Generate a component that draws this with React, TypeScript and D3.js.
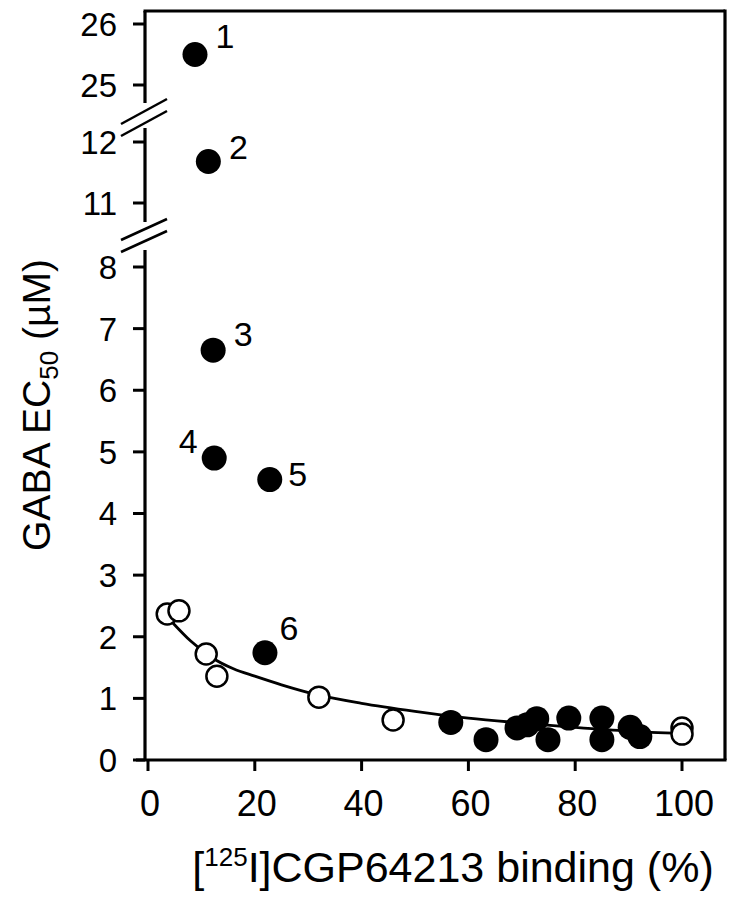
import React from "react";
import * as d3 from "d3";

// ---- data ----
const filledX = [8.8, 11.3, 12.2, 12.4, 22.8, 21.9, 56.7, 63.3, 69.1, 71.0, 72.8, 74.9, 78.8, 85.0, 85.0, 90.3, 92.1];
const filledY = [25.5, 11.68, 6.65, 4.9, 4.55, 1.74, 0.61, 0.33, 0.52, 0.57, 0.67, 0.33, 0.68, 0.68, 0.33, 0.53, 0.38];
const filledLabels = ["1", "2", "3", "4", "5", "6"];
const openX = [3.6, 5.8, 10.9, 12.9, 32.0, 45.9, 100, 100];
const openY = [2.37, 2.42, 1.72, 1.36, 1.02, 0.65, 0.52, 0.42];
const fitX = [4.7, 8, 12, 16, 20, 25, 31.6, 40, 50, 60, 70, 80, 90, 100];
const fitY = [2.22, 1.93, 1.66, 1.48, 1.36, 1.22, 1.06, 0.92, 0.79, 0.68, 0.6, 0.53, 0.47, 0.43];
const xTicks = [0, 20, 40, 60, 80, 100];
const yTicksTop = [25, 26];
const yTicksMid = [11, 12];
const yTicksLow = [0, 1, 2, 3, 4, 5, 6, 7, 8];

// ---- layout ----
const W = 733, H = 899;
const axX = 145, axY = 760, right = 725, top = 11;
const FONT = "'Liberation Sans', Arial, Helvetica, sans-serif";
const labelOffsets: [number, number][] = [[30, -19], [30, -15], [30, -16], [-26, -17], [28, -6], [24, -25]];

const x = d3.scaleLinear().domain([0, 100]).range([148, 682]);
const yTop = d3.scaleLinear().domain([25, 26]).range([85, 24]);
const yMid = d3.scaleLinear().domain([11, 12]).range([203, 142]);
const yLow = d3.scaleLinear().domain([0, 8]).range([axY, 267]);
const yPos = (v: number) => (v >= 20 ? yTop(v) : v >= 10 ? yMid(v) : yLow(v));

const axisSegs: [number, number][] = [[top, 103], [128, 222], [250, axY]];
const breaks: [number, number][] = [[124, 99], [240, 219]];

export default function App() {
  const line = d3
    .line<number>()
    .x((_, i) => x(fitX[i]))
    .y((v) => yLow(v))
    .curve(d3.curveMonotoneX);
  const tickLabel = (v: number, yy: number) => (
    <text key={"yl" + v} x={117} y={yy} dy="0.36em" textAnchor="end" fontSize={33} fontFamily={FONT}>
      {v}
    </text>
  );
  return (
    <svg width={W} height={H} style={{ position: "absolute", left: 0, top: 0, background: "#fff" }}>
      <rect width={W} height={H} fill="#fff" />
      {/* frame */}
      <line x1={axX - 1.5} y1={top} x2={right} y2={top} stroke="#000" strokeWidth={3.2} />
      <line x1={right} y1={top - 1.5} x2={right} y2={axY} stroke="#000" strokeWidth={3.2} />
      <line x1={136} y1={axY} x2={right + 1.5} y2={axY} stroke="#000" strokeWidth={3.2} />
      {axisSegs.map(([a, b], i) => (
        <line key={"seg" + i} x1={axX} y1={a} x2={axX} y2={b} stroke="#000" strokeWidth={3.2} />
      ))}
      {breaks.map(([y1, y2], i) => (
        <g key={"br" + i}>
          <line x1={121} y1={y1} x2={167} y2={y2} stroke="#000" strokeWidth={2.5} />
          <line x1={121} y1={y1 + 12} x2={167} y2={y2 + 12} stroke="#000" strokeWidth={2.5} />
        </g>
      ))}
      {/* y ticks */}
      {yTicksTop.map((v) => (
        <g key={"t" + v}>
          <line x1={133} x2={axX} y1={yTop(v)} y2={yTop(v)} stroke="#000" strokeWidth={3} />
          {tickLabel(v, yTop(v))}
        </g>
      ))}
      {yTicksMid.map((v) => (
        <g key={"m" + v}>
          <line x1={133} x2={axX} y1={yMid(v)} y2={yMid(v)} stroke="#000" strokeWidth={3} />
          {tickLabel(v, yMid(v))}
        </g>
      ))}
      {yTicksLow.map((v) => (
        <g key={"l" + v}>
          <line x1={133} x2={axX} y1={yLow(v)} y2={yLow(v)} stroke="#000" strokeWidth={3} />
          {tickLabel(v, yLow(v))}
        </g>
      ))}
      {/* x ticks */}
      {xTicks.map((v) => (
        <g key={"x" + v}>
          <line x1={x(v)} x2={x(v)} y1={axY} y2={771} stroke="#000" strokeWidth={3} />
          <text x={x(v) + 2} y={816} textAnchor="middle" fontSize={36} fontFamily={FONT}>
            {v}
          </text>
        </g>
      ))}
      {/* fit curve */}
      <path d={line(fitY) || ""} fill="none" stroke="#000" strokeWidth={2.8} />
      {/* open circles */}
      {openX.map((v, i) => (
        <circle key={"o" + i} cx={x(v)} cy={yPos(openY[i])} r={10.5} fill="#fff" stroke="#000" strokeWidth={2.5} />
      ))}
      {/* filled circles */}
      {filledX.map((v, i) => (
        <circle key={"f" + i} cx={x(v)} cy={yPos(filledY[i])} r={12.5} fill="#000" />
      ))}
      {filledLabels.map((t, i) => (
        <text
          key={"lab" + i}
          x={x(filledX[i]) + labelOffsets[i][0]}
          y={yPos(filledY[i]) + labelOffsets[i][1]}
          dy="0.36em"
          textAnchor="middle"
          fontSize={34}
          fontFamily={FONT}
        >
          {t}
        </text>
      ))}
      {/* axis titles */}
      <text x={453} y={882} textAnchor="middle" fontSize={43} fontFamily={FONT}>
        [<tspan fontSize={26} dy={-16}>125</tspan>
        <tspan dy={16}>I]CGP64213 binding (%)</tspan>
      </text>
      <text transform="translate(50,405) rotate(-90)" textAnchor="middle" fontSize={39} fontFamily={FONT}>
        GABA EC<tspan fontSize={26} dy={8}>50</tspan>
        <tspan dy={-8}> (µM)</tspan>
      </text>
    </svg>
  );
}
